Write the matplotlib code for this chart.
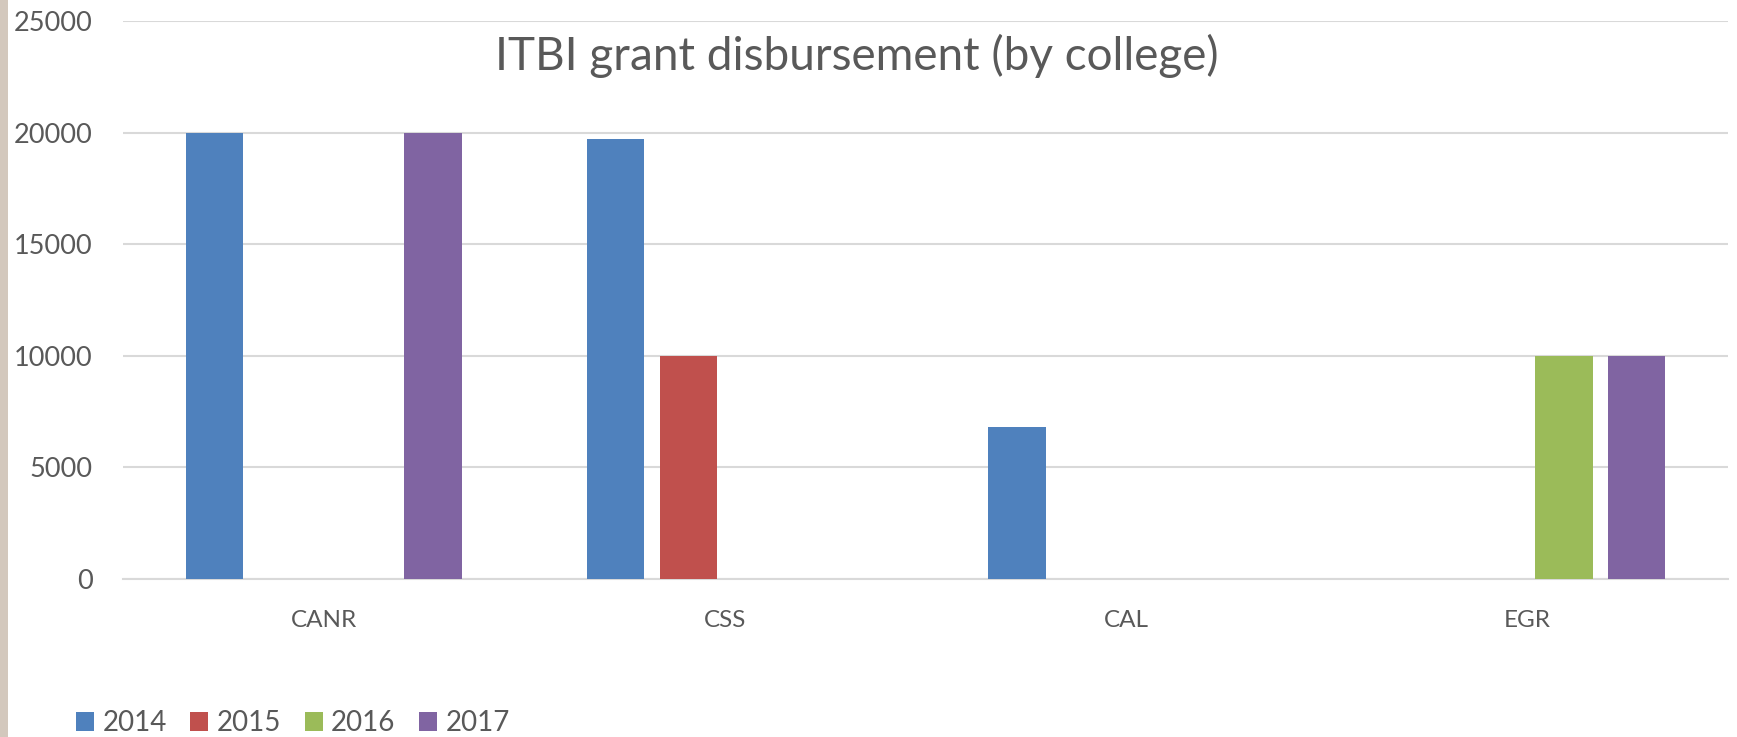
import matplotlib
matplotlib.use("Agg")
import matplotlib.pyplot as plt
from matplotlib.patches import Rectangle, Patch
import numpy as np

colleges = ["CANR", "CSS", "CAL", "EGR"]
years = ["2014", "2015", "2016", "2017"]
v2014 = [20000, 19700, 6800, 0]
v2015 = [0, 10000, 0, 0]
v2016 = [0, 0, 0, 10000]
v2017 = [20000, 0, 0, 10000]
series = [v2014, v2015, v2016, v2017]
colors = ["#4F81BD", "#C0504D", "#9BBB59", "#8064A2"]
yticks = [0, 5000, 10000, 15000, 20000, 25000]

plt.rcParams['font.family'] = ['Lato', 'DejaVu Sans']
txt = "#595959"

fig = plt.figure(figsize=(17.37, 7.37), dpi=100)
fig.patches.append(Rectangle((0, 0), 8 / 1737, 1, transform=fig.transFigure,
                             facecolor="#d3c8bd", edgecolor="none"))
ax = fig.add_axes([123 / 1737, 1 - 579 / 737, 1605 / 1737, 558 / 737])

x = np.arange(len(colleges))
step = 0.1815
width = 0.1436
for i, (vals, c) in enumerate(zip(series, colors)):
    ax.bar(x + (i - 1.5) * step, vals, width, color=c, zorder=3)

ax.set_xlim(-0.5, 3.5)
ax.set_ylim(0, 25000)
ax.set_yticks(yticks)
ax.set_yticklabels([str(t) for t in yticks], fontsize=19.5, color=txt)
ax.set_xticks(x)
ax.set_xticklabels(colleges, fontsize=17.5, color=txt)
ax.tick_params(length=0)
ax.tick_params(axis="y", pad=22)
ax.tick_params(axis="x", pad=22)
ax.grid(axis="y", color="#d9d9d9", linewidth=1.5, zorder=0)
for s in ["top", "right", "left"]:
    ax.spines[s].set_visible(False)
ax.spines["bottom"].set_color("#d9d9d9")
ax.spines["bottom"].set_linewidth(1.5)

fig.text(857 / 1737, 1 - 56 / 737, "ITBI grant disbursement (by college)",
         fontsize=33, color=txt, ha="center", va="center")

handles = [Patch(facecolor=c, edgecolor="none") for c in colors]
fig.legend(handles, years, loc="center left", bbox_to_anchor=(51 / 1737, 1 - 723 / 737),
           ncol=4, frameon=False, fontsize=20, labelcolor=txt,
           handlelength=0.65, handleheight=0.65, handletextpad=0.3, columnspacing=0.85)

fig.savefig("out.png", dpi=100)
